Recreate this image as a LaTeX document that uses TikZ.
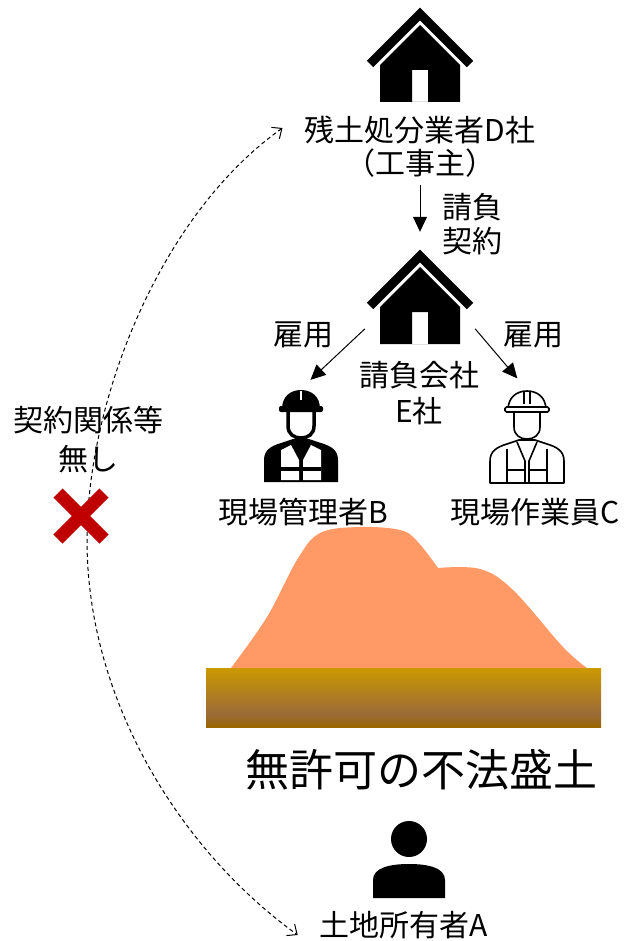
\documentclass[tikz,border=0pt]{standalone}
\usepackage{fontspec}
\setmainfont{Noto Sans CJK JP}
\usetikzlibrary{arrows.meta}

\definecolor{moundcol}{HTML}{FF9966}
\definecolor{soiltop}{HTML}{CC9900}
\definecolor{soilmid}{HTML}{9A6A38}
\definecolor{soilbot}{HTML}{996600}
\definecolor{ngred}{HTML}{C00000}
\pgfdeclareverticalshading{soil}{100bp}{color(0bp)=(soilbot); color(25bp)=(soilbot);
  color(36bp)=(soilmid); color(75bp)=(soiltop); color(100bp)=(soiltop)}

\tikzset{
  lbl/.style={font=\fontsize{30}{34}\selectfont,inner sep=0pt,align=center},
  big/.style={font=\fontsize{44}{50}\selectfont,inner sep=0pt},
  iconbox/.style={inner sep=0pt,minimum width=#1,minimum height=94pt},
  arr/.style={-{Triangle[length=15pt,width=14pt]},line width=1pt},
  dsh/.style={{Straight Barb[length=8pt,width=14pt]}-{Straight Barb[length=8pt,width=14pt]},
    dash pattern=on 4pt off 3pt,line width=1pt},
  % icons, origin at the middle of the icon
  house/.pic={
    \draw[line width=9pt] (-50,9) -- (0,-41) -- (50,9);
    \fill[even odd rule] (-40,47) -- (-40,10) -- (0,-30) -- (40,10) -- (40,47) -- cycle
      (-8,15) rectangle (8,47);
  },
  supervisor/.pic={
    \fill (-37,46) -- (-37,24) .. controls (-37,14) and (-30,10) .. (-20,7) -- (-8,3) -- (8,3)
      -- (20,7) .. controls (30,10) and (37,14) .. (37,24) -- (37,46) -- cycle;
    \fill[white] (-20,14) -- (-10,9) -- (-2,24) -- (-2,44) -- (-20,44) -- cycle;
    \fill[white] (20,14) -- (10,9) -- (2,24) -- (2,44) -- (20,44) -- cycle;
    \fill (-20,31) rectangle (20,35);
    \draw[line width=3.5pt,fill=white] (-13,-25) -- (-13,-10) .. controls (-13,-2) and (-7,2) .. (0,2)
      .. controls (7,2) and (13,-2) .. (13,-10) -- (13,-25);
    \fill (-19,-27) .. controls (-19,-40) and (-10,-46) .. (0,-46) .. controls (10,-46) and (19,-40) .. (19,-27) -- cycle;
    \fill[rounded corners=2pt] (-22,-30) rectangle (22,-24);
    \draw[white,line width=1.5pt] (0,-45) -- (0,-36);
  },
  labourer/.pic={
    \draw[line width=1.6pt,line join=round] (-37,46) -- (-37,24) .. controls (-37,14) and (-30,10) .. (-20,7) -- (-8,3) -- (8,3)
      -- (20,7) .. controls (30,10) and (37,14) .. (37,24) -- (37,46) -- cycle;
    \draw[line width=1.6pt] (-20,12) -- (-20,46) (20,12) -- (20,46)
      (-10,5) -- (-2,24) -- (-2,46) (10,5) -- (2,24) -- (2,46)
      (-20,33) -- (-2,33) (2,33) -- (20,33);
    \draw[line width=1.6pt,fill=white] (-13,-25) -- (-13,-10) .. controls (-13,-2) and (-7,2) .. (0,2)
      .. controls (7,2) and (13,-2) .. (13,-10) -- (13,-25);
    \draw[line width=1.6pt,fill=white] (-19,-27) .. controls (-19,-40) and (-10,-46) .. (0,-46)
      .. controls (10,-46) and (19,-40) .. (19,-27) -- cycle;
    \draw[line width=1.6pt] (-3,-45) -- (-3,-33) (3,-45) -- (3,-33);
    \draw[line width=1.6pt,fill=white,rounded corners=1.5pt] (-22,-30) rectangle (22,-25);
  },
  owner/.pic={
    \fill (0,-21) circle[radius=18];
    \fill (-36,38) -- (-36,20) .. controls (-36,8) and (-20,4) .. (0,4)
      .. controls (20,4) and (36,8) .. (36,20) -- (36,38) -- cycle;
  },
}

\begin{document}
\begin{tikzpicture}[x=1pt,y=-1pt]
\useasboundingbox (0,0) rectangle (626,941);

% the companies
\node[iconbox=110pt] (dhouse) at (420,55) {};
\pic at (dhouse) {house};
\node[lbl] (dco) at (420,130) {残土処分業者D社};
\node[lbl] (dsub) at (420,163) {（工事主）};

\node[iconbox=110pt] (eco) at (420,297) {};
\pic at (eco) {house};
\node[lbl,font=\fontsize{30}{36}\selectfont] (ename) at (419,393) {請負会社\\E社};

\draw[arr] (dsub.south) -- (eco.north) [shorten <=8pt,shorten >=18pt];
\node[lbl] (contract) at (472,224) {請負\\契約};

% the workers
\node[iconbox=74pt] (mgr) at (301,436) {};
\pic at (mgr) {supervisor};
\node[lbl] (mgrname) at (303,512) {現場管理者B};

\node[iconbox=74pt] (wkr) at (527,437) {};
\pic at (wkr) {labourer};
\node[lbl] (wkrname) at (535,512) {現場作業員C};

\draw[arr,shorten >=13pt] (eco.210) -- (mgr.north);
\draw[arr,shorten >=15pt] (eco.330) -- (wkr.north);
\node[lbl] (hire1) at (303,335) {雇用};
\node[lbl] (hire2) at (533,335) {雇用};

% the fill, a high part on the left and a step on the right
\fill[moundcol] plot[smooth,tension=0.6] coordinates {(231,668) (267,617) (297,560) (320,533)
  (360,527) (400,530) (417,541) (438,568)}
  -- plot[smooth,tension=0.6] coordinates {(438,568) (480,569) (513,590) (563,647) (587,668)} -- cycle;
\shade[shading=soil] (206,668) rectangle (601,727);
\node[big] (title) at (421,770) {無許可の不法盛土};

% the land owner
\node[iconbox=72pt] (own) at (409,860) {};
\pic at (own) {owner};
\node[lbl] (ownname) at (404,925) {土地所有者A};

% no contract between owner and D
\draw[dsh] ([xshift=-22pt,yshift=2pt]dco.west) .. controls (160,215) and (87,400) .. (87,540)
  .. controls (87,700) and (180,850) .. ([xshift=-22pt,yshift=-10pt]ownname.west);
\node[lbl,font=\fontsize{30}{39}\selectfont] (nocon) at (88,440) {契約関係等\\無し};
\draw[ngred,line width=13pt] (58,493) -- (104,539) (104,493) -- (58,539);
\end{tikzpicture}
\end{document}
